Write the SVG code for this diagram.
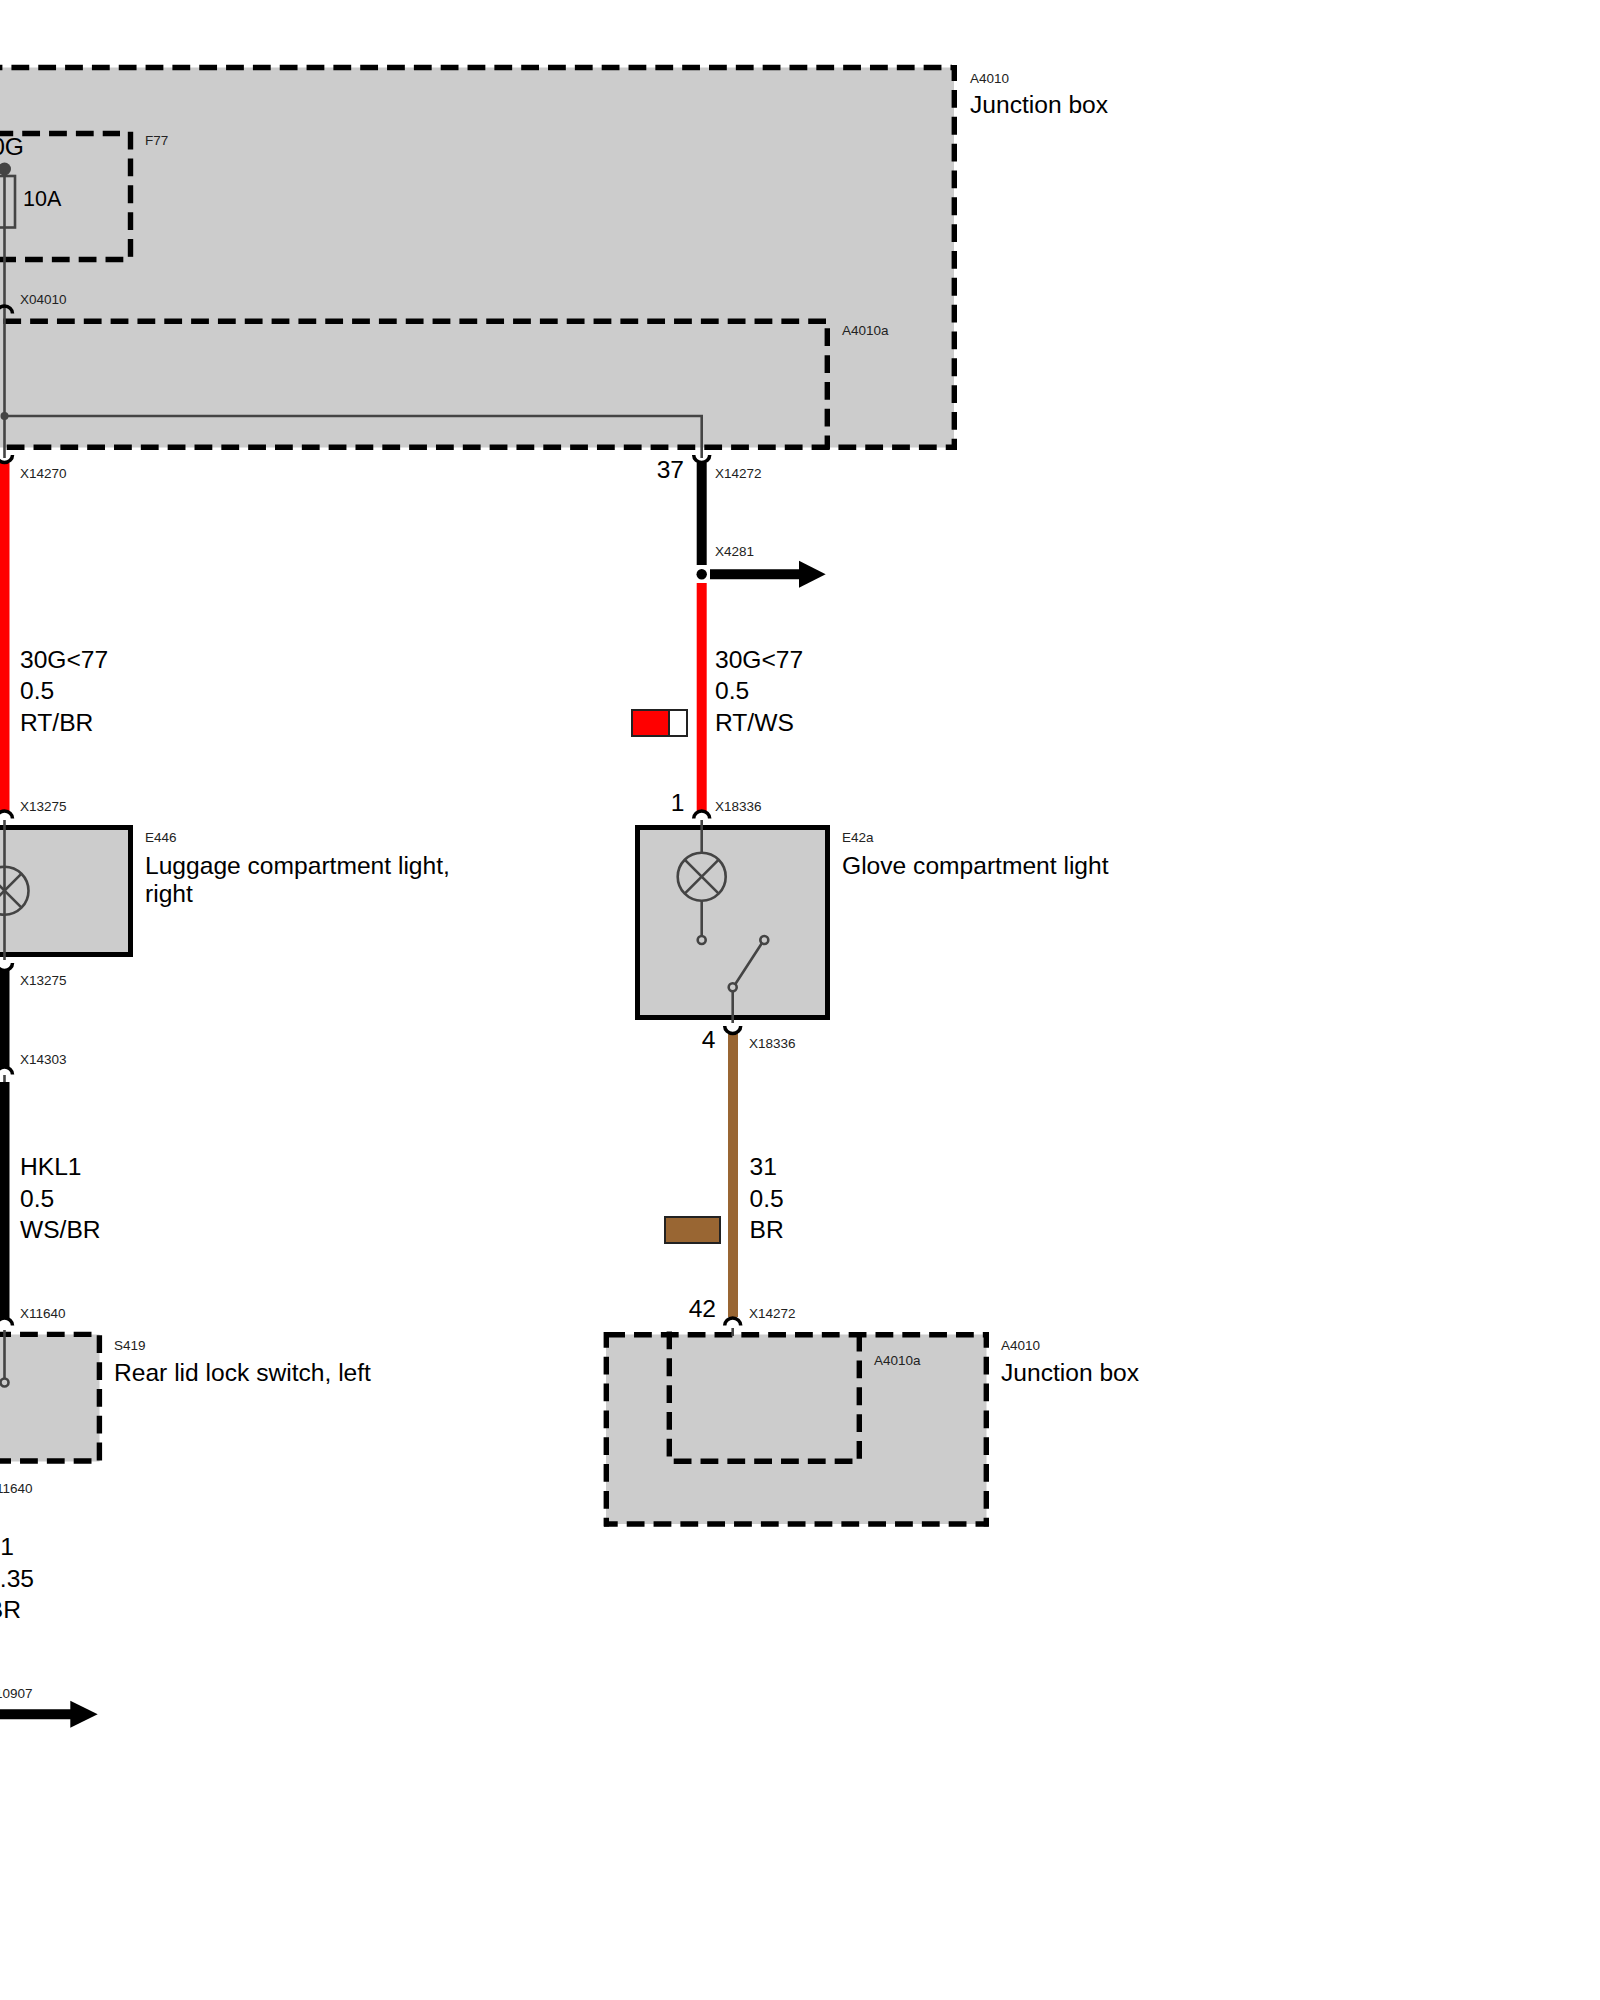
<svg xmlns="http://www.w3.org/2000/svg" width="1600" height="2000" viewBox="0 0 1600 2000">
<style>
text{font-family:"Liberation Sans",Arial,sans-serif;fill:#000}
.s{font-size:13.5px;fill:#222}
.l{font-size:24.6px}
.e{text-anchor:end}
.box{fill:#ccc;stroke:none}
.solid{fill:#ccc;stroke:#000;stroke-width:5}
.d{stroke:#000;stroke-width:5.4;stroke-dasharray:17.8 9.03;fill:none}
.w{stroke-width:10;fill:none}
.t{stroke:#444;stroke-width:2.6;fill:none}
.c{stroke:#000;stroke-width:3.5;fill:none}
.o{fill:#ccc;stroke:#444;stroke-width:2.6}
</style>
<defs>
<path id="up" class="c" d="M-8 7.5A8 7.5 0 0 1 8 7.5"/>
<path id="dn" class="c" d="M-8 0A8 7.5 0 0 0 8 0"/>
<g id="lamp"><circle r="24" fill="none" stroke="#444" stroke-width="2.6"/><path class="t" d="M-17 -17L17 17M-17 17L17 -17"/></g>
</defs>

<g id="A4010-top">
<rect class="box" x="-10" y="67.5" width="964" height="380"/>
<path class="d" d="M-15.4 67.5H952"/>
<path class="d" stroke-dashoffset="1.8" d="M954.3 65V450"/>
<path class="d" d="M6.7 447.3H956.7"/>
<text class="s" x="970" y="83">A4010</text>
<text class="l" x="970" y="113">Junction box</text>
</g>
<g id="F77">
<path class="d" d="M-4.6 133.5H120"/>
<path class="d" d="M130.5 131.7V261"/>
<path class="d" d="M-1.8 259.5H124"/>
<text class="s" x="145" y="145">F77</text>
<text class="l e" x="24" y="155">30G</text>
<circle cx="4.5" cy="169" r="6.5" fill="#444"/>
<rect x="-6" y="176" width="21" height="51.5" fill="none" stroke="#444" stroke-width="2.6"/>
<text class="l" style="font-size:21.5px" x="23" y="206">10A</text>
</g>
<g id="A4010a-top">
<path class="d" d="M3.3 321.3H826"/>
<path class="d" d="M827.3 328.3V449.5"/>
<text class="s" x="842" y="335">A4010a</text>
</g>
<g id="E446">
<rect class="solid" x="-10" y="827.5" width="140.5" height="127"/>
<text class="s" x="145" y="842">E446</text>
<text class="l" x="145" y="873.5">Luggage compartment light,</text>
<text class="l" x="145" y="902">right</text>
<use href="#lamp" x="4.5" y="890.7"/>
</g>
<g id="S419">
<rect class="box" x="-10" y="1334.5" width="109.5" height="127"/>
<path class="d" d="M-6.8 1334.4H97"/>
<path class="d" d="M99.4 1335.3V1463"/>
<path class="d" d="M-6.8 1461H92"/>
<text class="s" x="114" y="1350">S419</text>
<text class="l" x="114" y="1381">Rear lid lock switch, left</text>
<circle class="o" cx="4.5" cy="1382.5" r="4"/>
</g>
<g id="E42a">
<rect class="solid" x="637.5" y="827.5" width="190" height="190"/>
<text class="s" x="842" y="842">E42a</text>
<text class="l" x="842" y="873.5">Glove compartment light</text>
<use href="#lamp" x="701.7" y="876.7"/>
<path class="t" d="M701.7 820V853M701.7 901V936M735.2 984.3L762 943M732.7 991V1023"/>
<circle class="o" cx="701.7" cy="940" r="4"/>
<circle class="o" cx="764.3" cy="940" r="4"/>
<circle class="o" cx="732.7" cy="987.3" r="4"/>
</g>
<g id="A4010-bottom">
<rect class="box" x="606" y="1334.5" width="380.5" height="189.5"/>
<path class="d" d="M607.2 1334.7H988.8"/>
<path class="d" stroke-dashoffset="2.1" d="M606.3 1332V1526.5"/>
<path class="d" stroke-dashoffset="2.1" d="M986.3 1332V1526.5"/>
<path class="d" stroke-dashoffset="4.1" d="M604 1524H988.8"/>
<text class="s" x="1001" y="1350">A4010</text>
<text class="l" x="1001" y="1380.5">Junction box</text>
</g>
<g id="A4010a-bottom">
<path class="d" d="M669.3 1331.5V1457"/>
<path class="d" d="M859.3 1333.7V1460"/>
<path class="d" d="M673.7 1461.3H852.5"/>
<text class="s" x="874" y="1365">A4010a</text>
</g>

<g id="connectors">
<path class="t" d="M4.5 169V458M4.5 416H701.7V458"/>
<circle cx="4.5" cy="416" r="4" fill="#444"/>
<path class="t" d="M4.5 820V960M4.5 1075V1082M4.5 1330V1378M732.7 1328V1336"/>
<path class="w" stroke="#f00" d="M4.5 463V811"/>
<path class="w" stroke="#000" d="M4.5 970V1067M4.5 1082V1318"/>
<path class="w" stroke="#000" d="M701.7 463V565"/>
<path class="w" stroke="#f00" d="M701.7 583V811"/>
<path class="w" stroke="#996633" d="M733 1033V1317"/>
<use href="#dn" x="4.5" y="455"/>
<use href="#dn" x="701.7" y="455"/>
<use href="#up" x="4.5" y="306"/>
<use href="#up" x="4.5" y="811"/>
<use href="#up" x="701.7" y="811"/>
<use href="#dn" x="4.5" y="963"/>
<use href="#up" x="4.5" y="1067"/>
<use href="#up" x="4.5" y="1318"/>
<use href="#dn" x="732.7" y="1026"/>
<use href="#up" x="732.7" y="1318"/>
<circle cx="701.7" cy="574.3" r="5.2" fill="#000"/>
<path class="w" stroke="#000" d="M710 574.3H800"/>
<polygon points="799,560.8 825.7,574.3 799,587.8" fill="#000"/>
<path class="w" stroke="#000" d="M-10 1714.3H71"/>
<polygon points="70.3,1700.8 97.7,1714.3 70.3,1727.8" fill="#000"/>
</g>

<g id="labels">
<text class="s" x="20" y="304">X04010</text>
<text class="s" x="20" y="478">X14270</text>
<text class="s" x="715" y="478">X14272</text>
<text class="l e" x="684" y="478">37</text>
<text class="s" x="715" y="556">X4281</text>
<text class="l" x="20" y="667.5">30G&lt;77</text>
<text class="l" x="20" y="698.5">0.5</text>
<text class="l" x="20" y="730.5">RT/BR</text>
<text class="l" x="715" y="667.5">30G&lt;77</text>
<text class="l" x="715" y="698.5">0.5</text>
<text class="l" x="715" y="730.5">RT/WS</text>
<g id="swatch-rt-ws">
<rect x="632" y="710" width="37" height="26" fill="#f00" stroke="#222" stroke-width="2"/>
<rect x="669" y="710" width="18" height="26" fill="#fff" stroke="#222" stroke-width="2"/>
</g>
<text class="s" x="20" y="811">X13275</text>
<text class="l e" x="684.5" y="811">1</text>
<text class="s" x="715" y="811">X18336</text>
<text class="s" x="20" y="985">X13275</text>
<text class="l e" x="715.5" y="1047.5">4</text>
<text class="s" x="749" y="1048">X18336</text>
<text class="s" x="20" y="1064">X14303</text>
<text class="l" x="20" y="1175">HKL1</text>
<text class="l" x="20" y="1206.5">0.5</text>
<text class="l" x="20" y="1238">WS/BR</text>
<text class="l" x="749.5" y="1175">31</text>
<text class="l" x="749.5" y="1206.5">0.5</text>
<text class="l" x="749.5" y="1238">BR</text>
<rect id="swatch-br" x="665" y="1217" width="55" height="26" fill="#996633" stroke="#222" stroke-width="2"/>
<text class="s" x="20" y="1318">X11640</text>
<text class="l e" x="716" y="1317">42</text>
<text class="s" x="749" y="1318">X14272</text>
<text class="s e" x="32.5" y="1493">X11640</text>
<text class="l e" x="14" y="1554.5">31</text>
<text class="l e" x="34" y="1586.5">0.35</text>
<text class="l e" x="21" y="1618">BR</text>
<text class="s e" x="32.5" y="1698">X10907</text>
</g>
</svg>
